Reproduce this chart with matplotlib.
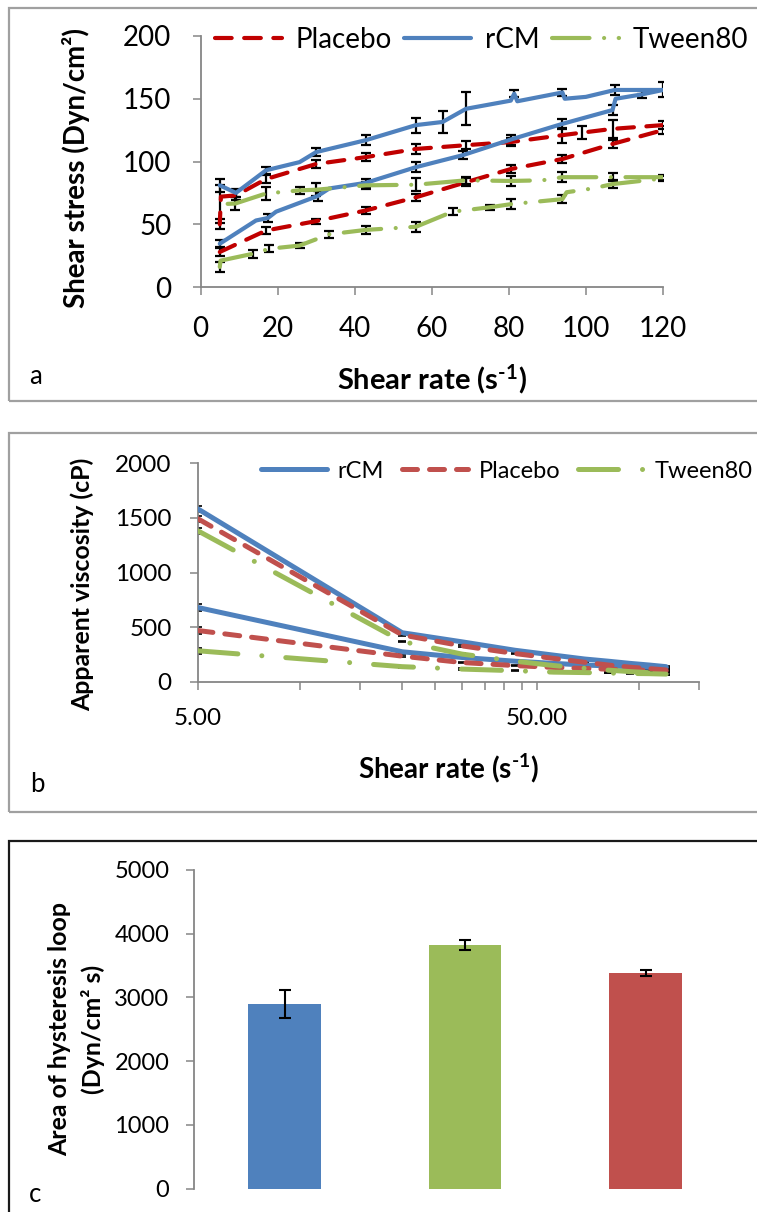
import numpy as np
import matplotlib
matplotlib.use('Agg')
import matplotlib.pyplot as plt
from matplotlib.patches import Rectangle

plt.rcParams['font.family'] = ['Lato', 'DejaVu Sans']
plt.rcParams['mathtext.fontset'] = 'custom'
plt.rcParams['mathtext.rm'] = 'Lato:bold'
plt.rcParams['mathtext.bf'] = 'Lato:bold'
plt.rcParams['mathtext.it'] = 'Lato:bold:italic'

# ---------- panel a: shear stress (Dyn/cm2) vs shear rate (1/s) ----------
rcm_up_x = [5, 14.4, 17.5, 19.6, 30.4, 33.4, 42.9, 55.9, 68, 80.5, 93.9, 106.9, 107.7, 114.6, 120]
rcm_up_y = [34.5, 53, 55, 60, 72.5, 78.5, 83, 95.5, 105, 117.5, 130, 141, 150, 153.5, 157]
rcm_up_err = [3, 0, 3, 0, 4, 0, 3, 4, 3, 4, 4, 4, 0, 3, 0]
rcm_down_x = [120, 107.5, 100, 94.5, 93.9, 82.2, 81.4, 80.5, 68.9, 62.8, 55.9, 42.9, 30, 25.7, 17, 9.2, 5]
rcm_down_y = [157, 157, 151.5, 150, 155, 148, 154, 148.5, 142, 131.5, 129, 117, 107.5, 99.5, 93, 75, 81]
rcm_down_err = [6, 4, 0, 0, 3, 0, 3, 0, 13, 9, 6, 4, 3, 0, 3, 3, 5]

plc_up_x = [5, 17, 30, 42.9, 55.9, 68.9, 80.5, 93.9, 106.9, 120]
plc_up_y = [27.9, 45, 52.5, 61, 71.5, 83.5, 94, 102, 114, 125]
plc_up_err = [3, 3, 2, 3, 3, 3, 3, 3, 3, 3]
plc_down_x = [120, 106.9, 99, 93.9, 80.5, 68.9, 55.9, 42.9, 30, 17, 9.2, 5.3, 5]
plc_down_y = [129, 126, 123, 121, 115.5, 113, 110, 103.5, 98, 86, 73, 72, 50]
plc_down_err = [3, 7, 5, 6, 3, 3, 4, 3, 3, 3, 4, 0, 4]

tw_up_x = [5, 5.2, 13.6, 17.9, 25.7, 33.4, 42.9, 55.9, 65.4, 75, 80.5, 93.9, 95, 101.7, 106.9, 120]
tw_up_y = [16, 21, 26.5, 30.5, 33, 42, 45.5, 48, 60, 63.5, 66, 70, 75.5, 78.5, 82, 86.5]
tw_up_err = [4, 0, 3, 3, 2, 3, 3, 4, 3, 2, 4, 3, 0, 0, 3, 2]
tw_down_x = [120, 106.9, 93.9, 88.7, 80.5, 68.9, 55.9, 42.9, 30, 25.7, 17, 9, 5]
tw_down_y = [87.5, 87.5, 87.5, 85, 84.5, 85, 81.5, 81, 77.5, 77, 74.5, 66.5, 66]
tw_down_err = [2, 3, 4, 0, 4, 3, 5, 3, 5, 3, 5, 5, 15]

# ---------- panel b: apparent viscosity (cP) ----------
visc_x = [5, 20, 30, 43, 56, 69, 81, 94, 107, 120]
rcm_visc_down = [1580, 450, 367, 290, 245, 210, 190, 170, 155, 140]
rcm_visc_up = [680, 276, 224, 190, 170, 155, 147, 140, 134, 130]
plc_visc_down = [1490, 430, 330, 260, 215, 180, 155, 135, 122, 110]
plc_visc_up = [470, 236, 178, 150, 133, 124, 117, 110, 106, 103]
tw_visc_down = [1380, 370, 255, 190, 150, 125, 108, 95, 85, 77]
tw_visc_up = [285, 140, 118, 103, 90, 86, 82, 78, 76, 72]
visc_err = [30, 8, 6, 5, 5, 4, 4, 4, 4, 10]

# ---------- panel c: hysteresis loop area ----------
groups = ['rCM', 'Tween80', 'Placebo']
loop_area = [2898, 3823, 3384]
loop_err = [223, 85, 52]

BLUE = '#4F81BD'
GREEN = '#9BBB59'
RED_A = '#C00000'
RED_B = '#C0504D'
SPINE = '#868686'

W, H = 757, 1212
fig = plt.figure(figsize=(W / 100, H / 100), dpi=100)


def px_axes(x0, x1, ytop, ybot):
    return fig.add_axes([x0 / W, 1 - ybot / H, (x1 - x0) / W, (ybot - ytop) / H])


def frame(ytop, ybot, color):
    fig.add_artist(Rectangle((8.5 / W, 1 - ybot / H), (780 - 8.5) / W, (ybot - ytop) / H,
                             transform=fig.transFigure, fill=False, ec=color, lw=1.6))


def style(ax, size, pad):
    for s in ['top', 'right']:
        ax.spines[s].set_visible(False)
    for s in ['left', 'bottom']:
        ax.spines[s].set_color(SPINE)
        ax.spines[s].set_linewidth(1.3)
    ax.tick_params(which='both', direction='out', length=6, width=1.1, color=SPINE,
                   labelsize=size, pad=pad)


def with_err(ax, x, y, e, capsize=3.6, lw=1.6):
    x, y, e = np.array(x), np.array(y), np.array(e)
    m = e > 0
    ax.errorbar(x[m], y[m], yerr=e[m], fmt='none', ecolor='black', elinewidth=lw,
                capsize=capsize, capthick=lw, zorder=2)


frame(8, 400.5, '#A0A0A0')
frame(433, 811.7, '#A0A0A0')
frame(841, 1240, '#1A1A1A')

xlab = r'Shear rate (s$^{\text{-1}}$)'

# ---- a ----
ax_a = px_axes(200.5, 663, 36, 287)
ax = ax_a
style(ax, 20, 15)
pl_kw = dict(color=RED_A, lw=3, dashes=(4, 3), dash_capstyle='round', zorder=3)
rc_kw = dict(color=BLUE, lw=3, solid_capstyle='round', solid_joinstyle='round', zorder=3)
tw_kw = dict(color=GREEN, lw=3, dashes=(9, 3.5, 0.01, 3.5), dash_capstyle='round', zorder=3)
with_err(ax, plc_up_x, plc_up_y, plc_up_err)
with_err(ax, plc_down_x, plc_down_y, plc_down_err)
with_err(ax, rcm_up_x, rcm_up_y, rcm_up_err)
with_err(ax, rcm_down_x, rcm_down_y, rcm_down_err)
with_err(ax, tw_up_x, tw_up_y, tw_up_err)
with_err(ax, tw_down_x, tw_down_y, tw_down_err)
h_pl, = ax.plot(plc_up_x, plc_up_y, **pl_kw)
ax.plot(plc_down_x, plc_down_y, **pl_kw)
h_rc, = ax.plot(rcm_up_x, rcm_up_y, **rc_kw)
ax.plot(rcm_down_x, rcm_down_y, **rc_kw)
h_tw, = ax.plot(tw_up_x, tw_up_y, **tw_kw)
ax.plot(tw_down_x, tw_down_y, **tw_kw)
ax.set_xlim(0, 120)
ax.set_ylim(0, 200)
ax.set_xticks(range(0, 121, 20))
ax.set_yticks(range(0, 201, 50))
ax.set_xlabel(xlab, fontsize=21, fontweight='bold')
ax.xaxis.set_label_coords(0.5, -0.30)
ax.set_ylabel('Shear stress (Dyn/cm²)', fontsize=18, fontweight='bold')
ax.yaxis.set_label_coords(-0.239, 0.474)
ax.legend([h_pl, h_rc, h_tw], ['Placebo', 'rCM', 'Tween80'], ncol=3, frameon=False,
          fontsize=20, handlelength=2.4, handletextpad=0.5, columnspacing=0.45,
          borderpad=0, borderaxespad=0, loc='center left',
          bbox_to_anchor=(215 / W, 1 - 40 / H), bbox_transform=fig.transFigure)
fig.text(29 / W, 1 - 377 / H, 'a', fontsize=18.5, va='center', ha='left')

# ---- b ----
ax_b = px_axes(198, 699, 463, 682)
ax = ax_b
style(ax, 17.5, 13)
rc_kw = dict(color=BLUE, lw=3.6, solid_capstyle='round', solid_joinstyle='round', zorder=3)
pl_kw = dict(color=RED_B, lw=3.6, dashes=(3, 2.4), dash_capstyle='round', zorder=3)
tw_kw = dict(color=GREEN, lw=3.6, dashes=(8, 4.8, 0.01, 4.8), dash_capstyle='round', zorder=3)
for yv in [rcm_visc_down, rcm_visc_up, plc_visc_down, plc_visc_up, tw_visc_down, tw_visc_up]:
    with_err(ax, visc_x, yv, visc_err, capsize=3, lw=1.2)
h_rc, = ax.plot(visc_x, rcm_visc_down, **rc_kw)
ax.plot(visc_x, rcm_visc_up, **rc_kw)
h_pl, = ax.plot(visc_x, plc_visc_down, **pl_kw)
ax.plot(visc_x, plc_visc_up, **pl_kw)
h_tw, = ax.plot(visc_x, tw_visc_down, **tw_kw)
ax.plot(visc_x, tw_visc_up, **tw_kw)
ax.set_xscale('log')
ax.set_xlim(5, 150)
ax.set_ylim(0, 2000)
ax.set_xticks([5, 50])
ax.set_xticklabels(['5.00', '50.00'])
ax.set_xticks([10, 15, 20, 25, 30, 35, 40, 45, 100, 150], minor=True)
ax.xaxis.set_minor_formatter(matplotlib.ticker.NullFormatter())
ax.set_yticks(range(0, 2001, 500))
ax.set_xlabel(xlab, fontsize=20, fontweight='bold')
ax.xaxis.set_label_coords(0.5, -0.32)
ax.set_ylabel('Apparent viscosity (cP)', fontsize=17, fontweight='bold')
ax.yaxis.set_label_coords(-0.2076, 0.444)
ax.legend([h_rc, h_pl, h_tw], ['rCM', 'Placebo', 'Tween80'], ncol=3, frameon=False,
          fontsize=17, handlelength=2.8, handletextpad=0.45, columnspacing=0.75,
          borderpad=0, borderaxespad=0, loc='center left',
          bbox_to_anchor=(261 / W, 1 - 471 / H), bbox_transform=fig.transFigure)
fig.text(30 / W, 1 - 784 / H, 'b', fontsize=18.5, va='center', ha='left')

# ---- c ----
ax_c = px_axes(194.25, 735.75, 870, 1188.7)
ax = ax_c
style(ax, 17, 12)
ax.spines['bottom'].set_visible(False)
ax.tick_params(axis='x', length=0, labelbottom=False)
ax.bar(range(len(groups)), loop_area, width=0.4, color=[BLUE, GREEN, RED_B],
       yerr=loop_err, capsize=4.3, error_kw=dict(elinewidth=1.5, capthick=1.5, ecolor='black'))
ax.set_xlim(-0.5, 2.5)
ax.set_ylim(0, 5000)
ax.set_yticks(range(0, 5001, 1000))
ax.set_ylabel('Area of hysteresis loop\n(Dyn/cm² s)', fontsize=17, fontweight='bold',
              linespacing=1.5)
ax.yaxis.set_label_coords(-0.165, 0.5)
fig.text(29 / W, 1 - 1194 / H, 'c', fontsize=18.5, va='center', ha='left')

# size the rotated axis titles to the lengths measured on the original
fig.canvas.draw()
for a, target in [(ax_a, 280), (ax_b, 254), (ax_c, 254)]:
    lab = a.yaxis.label
    h = lab.get_window_extent().height
    lab.set_fontsize(lab.get_fontsize() * target / h)

fig.savefig('out.png', dpi=100)
